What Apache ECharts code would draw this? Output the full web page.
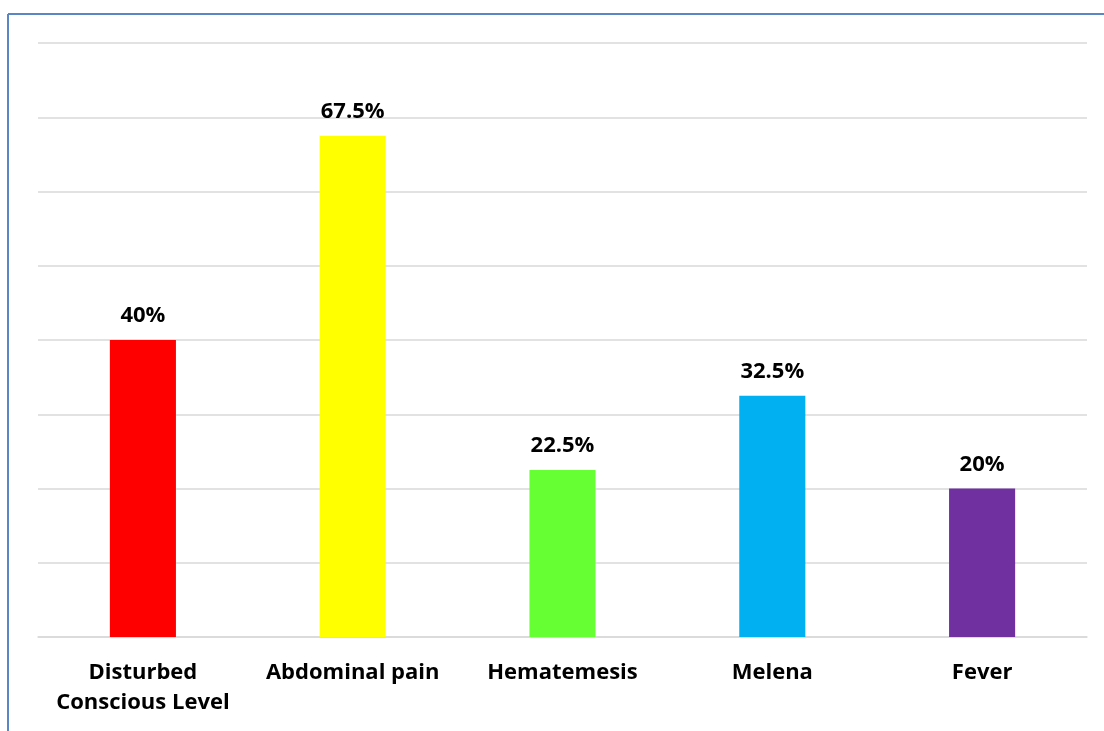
<!DOCTYPE html>
<html>
<head>
<meta charset="utf-8">
<script src="https://cdn.jsdelivr.net/npm/echarts@6/dist/echarts.min.js"></script>
<style>
  html, body { margin: 0; padding: 0; background: #fff; }
  #chart { width: 1104px; height: 731px; }
</style>
</head>
<body>
<div id="chart"></div>
<script>
// Presenting symptoms, share of patients (%)
const categories = ['Disturbed\nConscious Level', 'Abdominal pain', 'Hematemesis', 'Melena', 'Fever'];
const values = [40, 67.5, 22.5, 32.5, 20];
const barColors = ['#FF0000', '#FFFF00', '#66FF33', '#00B0F0', '#7030A0'];

const chart = echarts.init(document.getElementById('chart'));
const FONT = '"Open Sans", Lato, sans-serif';

chart.setOption({
  animation: false,
  grid: { left: 38, right: 17, top: 43, bottom: 94 },
  xAxis: {
    type: 'category',
    data: categories,
    axisLine: { show: true, lineStyle: { color: '#D9D9D9', width: 1.5 } },
    axisTick: { show: false },
    axisLabel: {
      interval: 0,
      margin: 21,
      color: '#000',
      fontFamily: FONT,
      fontWeight: 'bold',
      fontSize: 22,
      lineHeight: 30,
      verticalAlign: 'top'
    }
  },
  yAxis: {
    type: 'value',
    min: 0,
    max: 80,
    interval: 10,
    axisLabel: { show: false },
    axisLine: { show: false },
    axisTick: { show: false },
    splitLine: { lineStyle: { color: '#D9D9D9', width: 1.5 } }
  },
  series: [{
    type: 'bar',
    barWidth: '31.5%',
    data: values.map((v, i) => ({ value: v, itemStyle: { color: barColors[i] } })),
    label: {
      show: true,
      position: 'top',
      distance: 13,
      color: '#000',
      fontFamily: FONT,
      fontWeight: 'bold',
      fontSize: 22,
      formatter: p => p.value + '%'
    }
  }],
  graphic: [
    { type: 'line', shape: { x1: 8, y1: 14, x2: 1104, y2: 14 }, style: { stroke: '#5A86C5', lineWidth: 2 } },
    { type: 'line', shape: { x1: 8, y1: 14, x2: 8, y2: 731 }, style: { stroke: '#5A86C5', lineWidth: 2 } }
  ]
});
</script>
</body>
</html>
